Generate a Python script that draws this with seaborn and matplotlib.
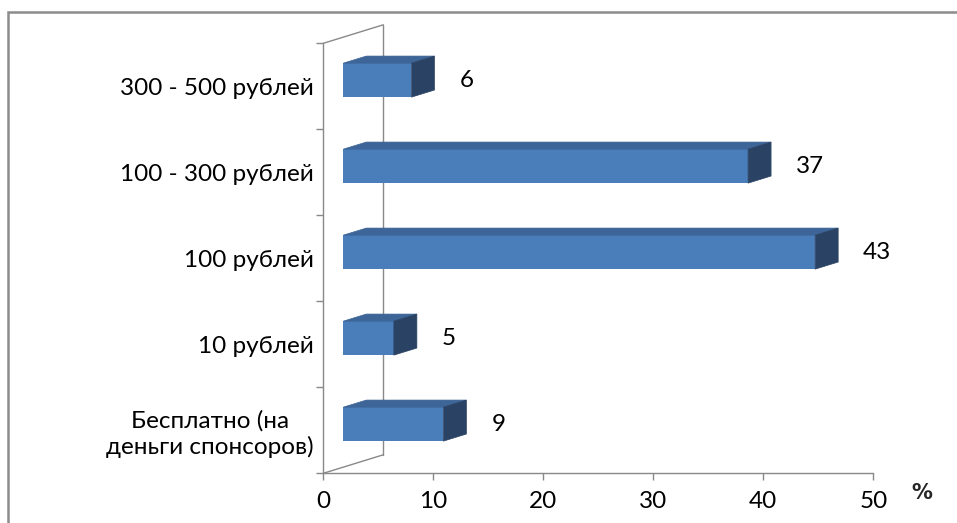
import numpy as np
import pandas as pd
import matplotlib
matplotlib.use("Agg")
import matplotlib.pyplot as plt
from matplotlib.patches import Polygon, Rectangle
import seaborn as sns

# ---- data ----
categories = ["300 - 500 рублей", "100 - 300 рублей", "100 рублей", "10 рублей",
              "Бесплатно (на\nденьги спонсоров)"]
values = [6.2, 36.8, 42.9, 4.6, 9.1]
x_ticks = [0, 10, 20, 30, 40, 50]
x_unit_label = "%"

# ---- style ----
FRONT = "#4A7EBB"
TOP = "#3D6597"
SIDE = "#2A4263"
AXIS = "#898989"

sns.set_theme(style="white")
plt.rcParams['font.family'] = ['Lato', 'Open Sans', 'DejaVu Sans']
FS = 17.5

W, H = 957, 523
fig = plt.figure(figsize=(W / 100, H / 100), dpi=100)
ax = fig.add_axes([323.3 / W, (H - 473.3) / H, 550 / W, 430 / H])

df = pd.DataFrame({"cat": categories, "val": values})
sns.barplot(data=df, x="val", y="cat", orient="h", width=0.395, color=FRONT,
            saturation=1, ax=ax, zorder=3, linewidth=0)

ax.set_xlim(x_ticks[0], x_ticks[-1])
n = len(categories)
ax.set_ylim(n - 0.5, -0.5)

# 3D depth vector in data units (wall depth)
px_per_x = 550 / (x_ticks[-1] - x_ticks[0])
px_per_y = 430 / n
Dx = 60 / px_per_x
Dy = -18.5 / px_per_y
d1 = 0.333   # front face of bars
dd = 0.383   # bar depth

# left wall (back edge + diagonals)
ax.plot([Dx, Dx], [-0.5 + Dy, n - 0.5 + Dy], color=AXIS, lw=1, clip_on=False, zorder=1)
ax.plot([0, Dx], [-0.5, -0.5 + Dy], color=AXIS, lw=1, clip_on=False, zorder=1)
ax.plot([0, Dx], [n - 0.5, n - 0.5 + Dy], color=AXIS, lw=1, clip_on=False, zorder=1)

for p, v in zip(ax.patches, values):
    p.set_x(p.get_x() + d1 * Dx)
    p.set_y(p.get_y() + d1 * Dy)
    p.set_clip_on(False)
    x0, w = p.get_x(), p.get_width()
    y0, h = p.get_y(), p.get_height()
    ytop, ybot = y0, y0 + h
    top = Polygon([(x0, ytop), (x0 + w, ytop), (x0 + w + dd * Dx, ytop + dd * Dy),
                   (x0 + dd * Dx, ytop + dd * Dy)], closed=True, facecolor=TOP,
                  edgecolor=TOP, lw=0.5, zorder=3, clip_on=False)
    side = Polygon([(x0 + w, ytop), (x0 + w, ybot), (x0 + w + dd * Dx, ybot + dd * Dy),
                    (x0 + w + dd * Dx, ytop + dd * Dy)], closed=True, facecolor=SIDE,
                   edgecolor=SIDE, lw=0.5, zorder=3, clip_on=False)
    ax.add_patch(top)
    ax.add_patch(side)
    ax.annotate(f"{v:.0f}", xy=(x0 + w + dd * Dx, y0 + h / 2), xytext=(25, 0),
                textcoords="offset pixels", ha="left", va="center",
                fontsize=FS, color="black", annotation_clip=False)

# axes styling
for s in ["top", "right"]:
    ax.spines[s].set_visible(False)
for s in ["left", "bottom"]:
    ax.spines[s].set_color(AXIS)
    ax.spines[s].set_linewidth(1)
ax.set_xticks(x_ticks)
ax.set_xticklabels([str(t) for t in x_ticks], fontsize=FS, color="black")
ax.tick_params(axis="x", direction="out", length=5, width=1, color=AXIS, pad=8, bottom=True)
ax.set_yticks(range(n))
ax.set_yticklabels(categories, fontsize=FS, color="black", multialignment="center")
ax.set_yticks(np.arange(-0.5, n, 1.0), minor=True)
ax.tick_params(axis="y", which="major", length=0, pad=7, left=False)
ax.tick_params(axis="y", which="minor", direction="out", length=5, width=1, color=AXIS, left=True)
ax.set_xlabel("")
ax.set_ylabel("")
ax.grid(False)

fig.text(922 / W, 1 - 493 / H, x_unit_label, fontsize=15, fontweight="bold",
         family=["DejaVu Sans"], ha="center", va="center")

# outer chart border
fig.patches.append(Rectangle((8 / W, -0.05), 1.2, 1 - 11.5 / H + 0.05, transform=fig.transFigure,
                             fill=False, edgecolor="#8C8C8C", lw=1.8))

fig.savefig("out.png", dpi=100)
